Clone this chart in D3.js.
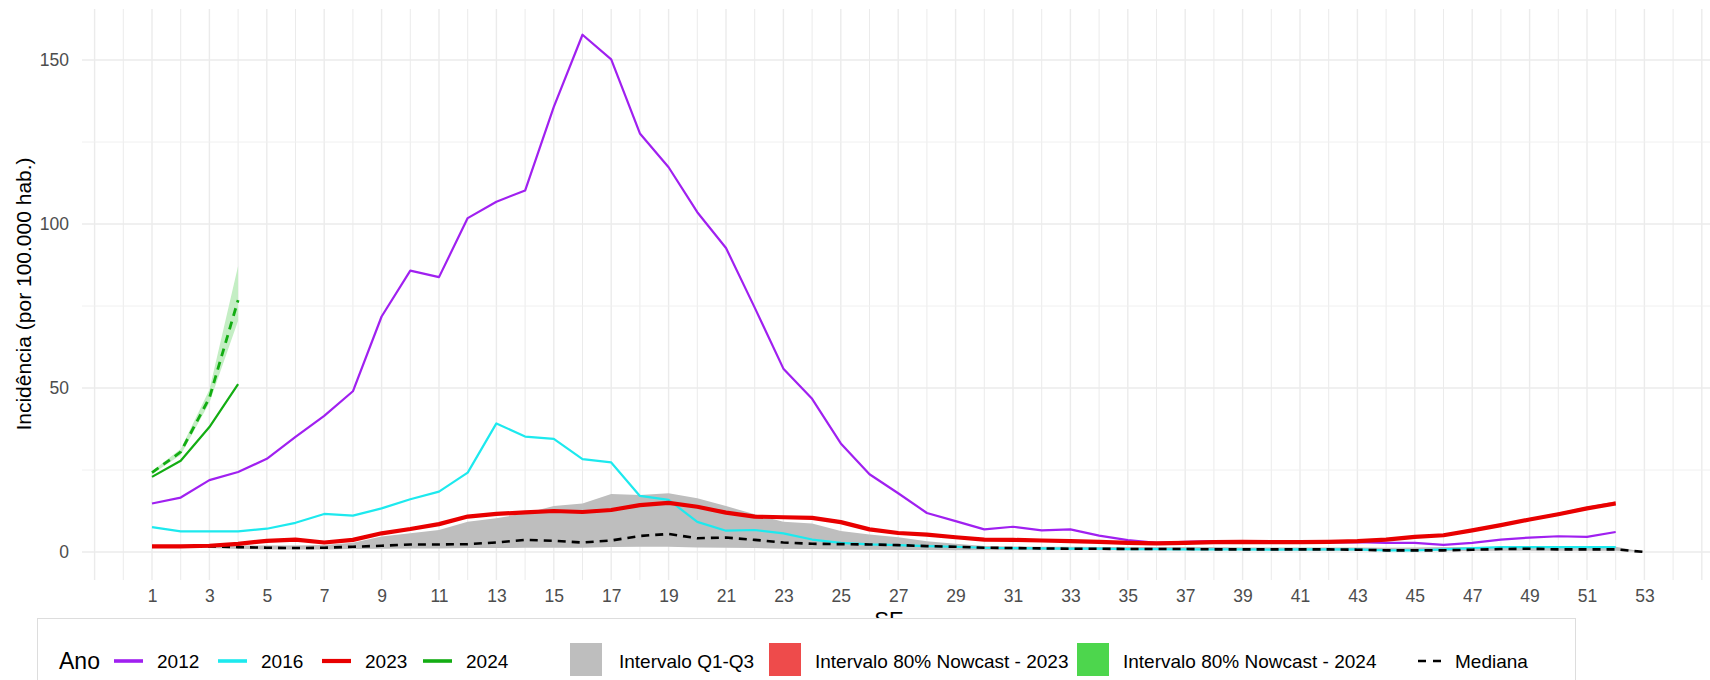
<!DOCTYPE html>
<html><head><meta charset="utf-8">
<script src="https://cdn.jsdelivr.net/npm/d3@7"></script>
<style>html,body{margin:0;padding:0;background:#fff;} svg{display:block;}</style>
</head><body>
<svg id="chart" width="1710" height="680"></svg>
<script>
// ---------------- DATA ----------------
const anos = ["2012", "2016", "2023", "2024"];
const inc2012 = [14.8,16.6,21.9,24.4,28.4,35.1,41.5,49.0,71.8,85.8,
                 83.8,101.8,106.8,110.2,135.7,157.7,150.2,127.6,117.3,103.6,
                 92.7,74.5,55.9,46.7,33.1,23.7,17.9,11.9,9.4,6.9,
                 7.7,6.6,6.9,5.0,3.6,2.8,3.1,3.3,2.8,2.8,
                 2.8,2.9,3.0,2.8,2.8,2.2,2.8,3.8,4.4,4.8,
                 4.6,6.1];
const inc2016 = [7.6,6.3,6.3,6.3,7.1,8.9,11.6,11.1,13.3,16.1,
                 18.4,24.2,39.2,35.2,34.5,28.3,27.3,17.1,15.9,9.2,
                 6.5,6.7,5.7,3.8,2.8,2.3,2.1,1.8,1.6,1.3,
                 1.2,1.1,1.0,1.0,0.9,0.9,0.8,0.8,0.8,0.7,
                 0.8,0.8,0.8,0.5,0.5,0.8,1.2,1.5,1.5,1.5,
                 1.5,1.5];
const inc2023 = [1.7,1.7,1.9,2.5,3.4,3.8,2.9,3.7,5.7,7.0,
                 8.5,10.8,11.6,12.1,12.5,12.2,12.8,14.3,15.0,13.8,
                 12.0,10.8,10.6,10.4,9.1,6.9,5.8,5.3,4.5,3.8,
                 3.7,3.5,3.3,3.1,2.8,2.6,2.8,3.0,3.1,3.0,
                 3.0,3.1,3.3,3.8,4.6,5.1,6.6,8.2,9.9,11.5,
                 13.3,14.8];
const inc2024 = [22.9,27.8,38.1,51.2];
// Nowcast 2024 (estimate and 80% interval)
const nowcast2024 = [24.2,30.5,47.0,76.8];
const nowcast2024Lo = [23.8,29.6,45.5,70.5];
const nowcast2024Hi = [24.6,31.4,49.5,87.2];
// Nowcast 2023 80% interval (weeks 44-52)
const nowcast2023Semanas = [44,45,46,47,48,49,50,51,52];
const nowcast2023Lo = [3.6,4.4,4.9,6.4,8.0,9.7,11.2,13.0,14.4];
const nowcast2023Hi = [4.1,5.0,5.5,6.9,8.5,10.3,12.0,13.8,15.5];
// Historical median and interquartile range (weeks 1-53)
const mediana = [1.7,1.7,1.7,1.5,1.3,1.2,1.3,1.6,1.9,2.3,
                 2.3,2.4,2.9,3.7,3.4,2.9,3.5,4.9,5.5,4.2,
                 4.4,3.7,2.9,2.5,2.4,2.3,2.1,1.8,1.6,1.3,
                 1.2,1.1,1.0,1.0,0.9,0.9,0.9,0.8,0.8,0.8,
                 0.8,0.8,0.7,0.5,0.5,0.5,0.7,0.9,1.0,0.8,
                 0.8,0.8,0.0];
const q1 = [1.2,1.2,1.2,0.9,0.8,0.8,0.8,0.9,1.0,1.1,
            1.1,1.2,1.2,1.3,1.3,1.3,1.5,1.6,1.6,1.4,
            1.3,1.2,1.0,0.9,0.8,0.7,0.6,0.6,0.5,0.5,
            0.5,0.5,0.5,0.5,0.5,0.5,0.5,0.5,0.5,0.5,
            0.4,0.4,0.4,0.3,0.3,0.3,0.3,0.4,0.4,0.4,
            0.4,0.4,0.0];
const q3 = [1.8,1.8,1.9,2.0,2.0,2.0,2.1,2.8,4.7,5.7,
            6.7,9.2,10.3,11.8,14.0,14.8,17.7,17.4,17.9,16.4,
            14.0,11.5,9.2,8.7,6.4,5.3,4.5,3.3,2.5,1.8,
            1.7,1.6,1.6,1.5,1.5,1.5,1.5,1.5,1.4,1.4,
            1.4,1.4,1.4,1.3,1.4,1.5,1.5,1.5,1.6,1.6,
            1.6,1.6,0.0];
const yTicks = [0, 50, 100, 150];
const yMinorTicks = [25, 75, 125];
const xTicks = [1,3,5,7,9,11,13,15,17,19,21,23,25,27,29,31,33,35,37,39,41,43,45,47,49,51,53];
const legendItems = ["Intervalo Q1-Q3", "Intervalo 80% Nowcast - 2023", "Intervalo 80% Nowcast - 2024", "Mediana"];

// ---------------- STYLE / LAYOUT ----------------
const cores = {"2012": "#A020F0", "2016": "#1DE9EE", "2023": "#E80000", "2024": "#13AD13"};
const panel = {left: 82, right: 1710, top: 9, bottom: 580};
const svg = d3.select("#chart");

const x = d3.scaleLinear().domain([1, 53]).range([152, 1644.4]);
const y = d3.scaleLinear().domain([0, 150]).range([552, 60]);
const xGrid = d3.range(-1, 56);

// grid
const grid = svg.append("g");
grid.selectAll("line.v").data(xGrid).join("line")
  .attr("x1", d => x(d)).attr("x2", d => x(d))
  .attr("y1", panel.top).attr("y2", panel.bottom)
  .attr("stroke", "#EBEBEB").attr("stroke-width", d => d % 2 ? 1.4 : 1.0);
grid.selectAll("line.hm").data(yMinorTicks).join("line")
  .attr("x1", panel.left).attr("x2", panel.right)
  .attr("y1", d => y(d)).attr("y2", d => y(d))
  .attr("stroke", "#F0F0F0").attr("stroke-width", 1.0);
grid.selectAll("line.hM").data(yTicks).join("line")
  .attr("x1", panel.left).attr("x2", panel.right)
  .attr("y1", d => y(d)).attr("y2", d => y(d))
  .attr("stroke", "#EBEBEB").attr("stroke-width", 1.5);

// bands
const area = d3.area().x(d => x(d.w)).y0(d => y(d.lo)).y1(d => y(d.hi));
const iqr = q1.map((v, i) => ({w: i + 1, lo: v, hi: q3[i]}));
svg.append("path").attr("d", area(iqr)).attr("fill", "#BEBEBE");
const band23 = nowcast2023Semanas.map((w, i) => ({w, lo: nowcast2023Lo[i], hi: nowcast2023Hi[i]}));
svg.append("path").attr("d", area(band23)).attr("fill", "#F04848").attr("opacity", 0.8);
const band24 = nowcast2024Lo.map((v, i) => ({w: i + 1, lo: v, hi: nowcast2024Hi[i]}));
svg.append("path").attr("d", area(band24)).attr("fill", "#C4EEC4");

// lines
const line = d3.line().x((d, i) => x(i + 1)).y(d => y(d));
function drawLine(values, color, width, dash) {
  const p = svg.append("path").attr("d", line(values)).attr("fill", "none")
    .attr("stroke", color).attr("stroke-width", width).attr("stroke-linejoin", "round");
  if (dash) p.attr("stroke-dasharray", dash);
}
drawLine(inc2012, cores["2012"], 2.2);
drawLine(inc2016, cores["2016"], 2.2);
drawLine(mediana, "#000", 2.6, "8,6");
drawLine(inc2023, cores["2023"], 4.2);
drawLine(inc2024, cores["2024"], 2.2);
drawLine(nowcast2024, cores["2024"], 2.8, "8,6");

// axes
const font = "'Liberation Sans', Arial, sans-serif";
const xAxis = svg.append("g").attr("transform", `translate(0,${panel.bottom})`)
  .call(d3.axisBottom(x).tickValues(xTicks).tickSize(0).tickPadding(10));
xAxis.select(".domain").remove();
xAxis.selectAll("text").attr("font-family", font).attr("font-size", 17.5).attr("fill", "#4D4D4D");
const yAxis = svg.append("g").attr("transform", `translate(${panel.left},0)`)
  .call(d3.axisLeft(y).tickValues(yTicks).tickSize(0).tickPadding(13));
yAxis.select(".domain").remove();
yAxis.selectAll("text").attr("font-family", font).attr("font-size", 17.5).attr("fill", "#4D4D4D");

svg.append("text").attr("transform", "translate(23,294) rotate(-90)")
  .attr("text-anchor", "middle").attr("dominant-baseline", "central")
  .attr("font-family", font).attr("font-size", 21).attr("fill", "#000")
  .text("Incidência (por 100.000 hab.)");
svg.append("text").attr("x", 889).attr("y", 627).attr("text-anchor", "middle")
  .attr("font-family", font).attr("font-size", 22).attr("fill", "#000").text("SE");

// legend
const lg = svg.append("g");
lg.append("rect").attr("x", 37.5).attr("y", 618.5).attr("width", 1538).attr("height", 80)
  .attr("fill", "#fff").attr("stroke", "#DDDDDD").attr("stroke-width", 1);
const ly = 661;
const lfont = 19;
lg.append("text").attr("x", 59).attr("y", ly).attr("dominant-baseline", "central")
  .attr("font-family", font).attr("font-size", 23).text("Ano");
const yearKeyX = [114, 218, 322, 423];
anos.forEach((a, i) => {
  lg.append("line").attr("x1", yearKeyX[i]).attr("x2", yearKeyX[i] + 29)
    .attr("y1", ly).attr("y2", ly).attr("stroke", cores[a]).attr("stroke-width", a === "2023" ? 4.2 : 3.6);
  lg.append("text").attr("x", yearKeyX[i] + 43).attr("y", ly).attr("dominant-baseline", "central")
    .attr("font-family", font).attr("font-size", lfont).text(a);
});
const sqX = [570, 769, 1077];
const sqFill = ["#BEBEBE", "#EE4B4B", "#4DD64D"];
const txtX = [619, 815, 1123];
[0, 1, 2].forEach(i => {
  lg.append("rect").attr("x", sqX[i]).attr("y", 643).attr("width", 32).attr("height", 33).attr("fill", sqFill[i]);
  lg.append("text").attr("x", txtX[i]).attr("y", ly).attr("dominant-baseline", "central")
    .attr("font-family", font).attr("font-size", lfont).text(legendItems[i]);
});
lg.append("line").attr("x1", 1418).attr("x2", 1441).attr("y1", ly).attr("y2", ly)
  .attr("stroke", "#000").attr("stroke-width", 2.6).attr("stroke-dasharray", "8,7");
lg.append("text").attr("x", 1455).attr("y", ly).attr("dominant-baseline", "central")
  .attr("font-family", font).attr("font-size", lfont).text(legendItems[3]);
</script>
</body></html>
